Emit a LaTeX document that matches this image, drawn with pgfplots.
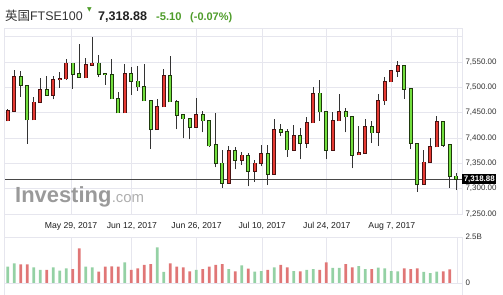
\documentclass[border=0pt]{standalone}
\usepackage{pgfplots}
\pgfplotsset{compat=1.18}
\usepackage{pgfplotstable}
\usepackage{fontspec}
\setmainfont{Liberation Sans}
\newfontfamily\cjk{Noto Sans CJK SC}
\newfontfamily\dejavu{DejaVu Sans}

\definecolor{gridc}{HTML}{E6E6EE}
\definecolor{upfill}{HTML}{E53A33}
\definecolor{upedge}{HTML}{4A1212}
\definecolor{dnfill}{HTML}{72DE3E}
\definecolor{dnedge}{HTML}{1E3A0C}
\definecolor{wick}{HTML}{333333}
\definecolor{volg}{HTML}{94D1A4}
\definecolor{volr}{HTML}{E07676}
\definecolor{hdrgreen}{HTML}{4E9C2A}
\definecolor{lbl}{HTML}{333333}
\definecolor{wm}{HTML}{9A9A9A}

% up days (drawn red), volume drawn green
\pgfplotstableread{
i O H L C V
0 7434 7458 7433 7453 0.89
1 7453 7534 7453 7521 1.07
4 7436 7481 7436 7470 0.85
5 7470 7518 7469 7495 0.71
7 7485 7522 7476 7515 0.85
8 7515 7530 7499 7517 0.67
9 7517 7555 7515 7547 0.80
12 7519 7558 7519 7544 0.89
13 7544 7600 7544 7547 0.85
18 7450 7546 7450 7527 1.12
23 7417 7477.5 7417 7461.6 1.94
24 7461.6 7537 7461 7523 0.60
29 7422 7479.5 7422 7446 0.71
34 7311 7385 7311 7374 0.76
36 7355.6 7371.5 7347 7365.6 0.96
38 7334.4 7356 7314 7349.7 0.62
39 7350 7386 7344 7368 0.65
41 7328.5 7438 7328 7416 0.85
44 7376 7426 7376 7404 0.65
46 7390 7442 7380 7430 0.71
47 7430 7501 7430 7487 0.76
50 7376 7452 7376 7434 0.82
51 7434 7486 7434 7452 0.82
54 7367 7424 7366 7370 0.92
55 7370 7438 7370 7422 0.76
57 7411 7486 7385 7473.5 0.83
58 7473.5 7520.5 7466 7511 0.80
59 7511 7534 7511 7532.5 0.65
60 7532.5 7551 7520.5 7542 0.63
64 7309 7376 7309 7352 0.60
65 7352 7399 7352 7382 0.54
66 7383 7444 7383 7432.5 0.62
}\upcandles

% down days (drawn green), volume drawn red
\pgfplotstableread{
i O H L C V
2 7521 7532 7481 7504 1.01
3 7503 7503 7389 7436 1.01
6 7495 7522 7485 7485 0.71
10 7547 7547 7497 7526 0.76
11 7526 7585 7520 7520 1.88
14 7547 7564 7521 7526 0.62
15 7526.5 7529 7505 7526 0.89
16 7525 7556 7477 7477.5 0.91
17 7477.5 7491 7450 7450 0.89
19 7527 7540 7485 7512 0.71
20 7512 7542 7493 7501 0.80
21 7501 7546 7473 7473.5 0.98
22 7473.5 7473.5 7378 7417 1.03
25 7523 7561.6 7471 7471.5 1.07
26 7471.5 7475.5 7417 7445.7 0.89
27 7445.7 7447.7 7399 7438.4 0.85
28 7438 7438 7397 7422 0.63
30 7446 7453 7411 7434 0.76
31 7434 7434 7383 7385 0.89
32 7386 7450 7342 7350 0.98
33 7350 7377 7302 7311 1.03
35 7374 7383 7338 7356 0.63
37 7365 7371 7304.6 7335 0.78
40 7368 7386 7307 7328.5 0.71
42 7416 7428 7403 7412 0.98
43 7412 7417 7363 7377 0.85
45 7404 7419 7358 7390 0.63
48 7488 7514 7434 7452 0.71
49 7452 7452 7358 7376 1.12
52 7452 7460 7411 7442 1.03
53 7442 7442 7340 7366 0.85
56 7422 7434 7390 7410.6 0.76
61 7542 7542 7477 7497 0.80
62 7497 7497 7377.5 7390 0.76
63 7389 7389 7294 7308.6 0.80
67 7432.5 7432.5 7383 7386 0.63
68 7386 7386 7302 7324 0.74
69 7324 7331 7297 7318.88 0
}\dncandles

\pgfplotsset{
  candlebar/.style 2 args={draw=none, mark=none, forget plot,
    error bars/.cd, y dir=plus, y explicit, error mark=none,
    error bar style={draw=#1, line width=#2, solid}},
}

\begin{document}
\begin{tikzpicture}
\path[use as bounding box] (0,0) rectangle (503bp,295bp);

% ---------- price panel ----------
\begin{axis}[
  at={(4.5bp,81bp)}, anchor=south west,
  scale only axis, width=457.5bp, height=186bp,
  xmin=-0.49, xmax=69.89, ymin=7250, ymax=7617,
  axis line style={draw=gridc, line width=0.8bp},
  grid=major, major grid style={draw=gridc, line width=0.8bp},
  major tick length=0pt,
  xtick={9.75,19.1,29.05,39.15,49.1,59.1,69.2},
  xticklabels={{May 29, 2017},{Jun 12, 2017},{Jun 26, 2017},{Jul 10, 2017},{Jul 24, 2017},{Aug 7, 2017},{}},
  xticklabel style={font=\fontsize{8.7}{10}\selectfont, text=black!88, anchor=center, yshift=-12bp},
  ytick={7250,7300,7350,7400,7450,7500,7550,7600},
  yticklabels={{7,250.00},{7,300.00},{7,350.00},{7,400.00},{7,450.00},{7,500.00},{7,550.00},{}},
  yticklabel pos=right,
  yticklabel style={font=\fontsize{8}{9.6}\selectfont, text=lbl, anchor=west},
]
% last price line
\addplot[draw=black!72, line width=0.9bp, mark=none] coordinates {(-0.49,7318.88) (69.89,7318.88)};
% wicks
\addplot[candlebar={wick}{0.9bp}]
  table[x=i, y=L, y error expr=\thisrow{H}-\thisrow{L}] {\upcandles};
\addplot[candlebar={wick}{0.9bp}]
  table[x=i, y=L, y error expr=\thisrow{H}-\thisrow{L}] {\dncandles};
% up bodies
\addplot[candlebar={upedge}{3.7bp}]
  table[x=i, y expr=\thisrow{O}-1.4, y error expr=\thisrow{C}-\thisrow{O}+2.8] {\upcandles};
\addplot[candlebar={upfill}{2.2bp}]
  table[x=i, y=O, y error expr=\thisrow{C}-\thisrow{O}] {\upcandles};
% down bodies
\addplot[candlebar={dnedge}{3.7bp}]
  table[x=i, y expr=\thisrow{C}-1.4, y error expr=\thisrow{O}-\thisrow{C}+2.8] {\dncandles};
\addplot[candlebar={dnfill}{2.2bp}]
  table[x=i, y=C, y error expr=\thisrow{O}-\thisrow{C}] {\dncandles};
\coordinate (lastp) at (axis cs:69.89,7318.88);
\end{axis}

% ---------- volume panel ----------
\begin{axis}[
  at={(4.5bp,12bp)}, anchor=south west,
  scale only axis, width=457.5bp, height=46bp,
  xmin=-0.49, xmax=69.89, ymin=0, ymax=2.5,
  axis line style={draw=gridc, line width=0.8bp},
  xmajorgrids, major grid style={draw=gridc, line width=0.8bp},
  major tick length=0pt,
  xtick={9.75,19.1,29.05,39.15,49.1,59.1,69.2},
  xticklabels={},
  ytick={0,2.5}, yticklabels={0,2.5B},
  yticklabel pos=right,
  yticklabel style={font=\fontsize{8}{9.6}\selectfont, text=lbl, anchor=west},
]
\addplot[ybar, bar width=2.8bp, bar shift=0pt, fill=volg, draw=none] table[x=i, y=V] {\upcandles};
\addplot[ybar, bar width=2.8bp, bar shift=0pt, fill=volr, draw=none] table[x=i, y=V] {\dncandles};
\end{axis}

% frame lines of the band between panels
\draw[gridc, line width=0.8bp] (4.5bp,0) -- (4.5bp,267bp);
\draw[gridc, line width=0.8bp] (462bp,0) -- (462bp,58bp);

% last price box
\node[fill=black, text=white, font=\bfseries\fontsize{8}{9.6}\selectfont, inner sep=1.6bp, anchor=west] at (lastp) {7,318.88};

% watermark
\node[anchor=base west, inner sep=0, text=wm, font=\bfseries\fontsize{22}{24}\selectfont] (wm) at (15bp,92bp) {Investing};
\node[anchor=base west, inner sep=0, text=wm!80, font=\fontsize{15}{17}\selectfont] at (wm.base east) {.com};

% header
\node[anchor=base west, inner sep=0, text=lbl, font=\fontsize{12.5}{14}\selectfont] (t1) at (5bp,274.5bp) {{\cjk 英国}FTSE100};
\node[inner sep=0, text=hdrgreen, font=\dejavu\fontsize{6}{7}\selectfont] at (89.5bp,285bp) {▼};
\node[anchor=base west, inner sep=0, text=black!87, font=\bfseries\fontsize{12.6}{14}\selectfont] at (98bp,274.5bp) {7,318.88};
\node[anchor=base west, inner sep=0, text=hdrgreen, font=\bfseries\fontsize{11.2}{13}\selectfont] at (156bp,274.5bp) {-5.10};
\node[anchor=base west, inner sep=0, text=hdrgreen, font=\bfseries\fontsize{11}{13}\selectfont] at (190bp,274.5bp) {(-0.07\%)};
\end{tikzpicture}
\end{document}
